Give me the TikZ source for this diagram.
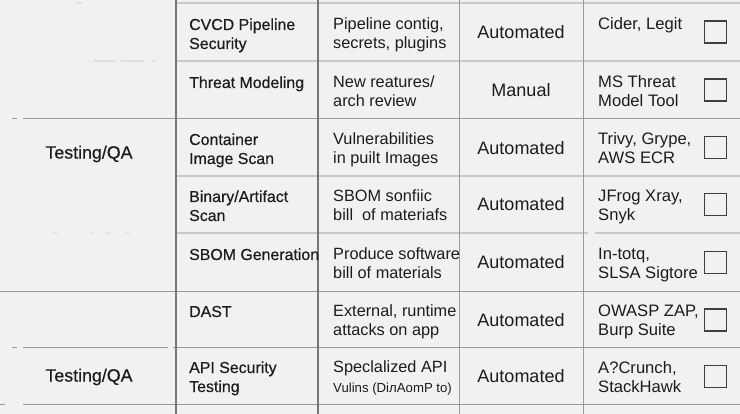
\documentclass[tikz,border=0pt]{standalone}
\usepackage{fontspec}
\setmainfont{Liberation Sans}
\newfontfamily\medfont{Liberation Sans}[FakeBold=0.45]
\definecolor{bg}{HTML}{F2F1EF}
\definecolor{ink}{HTML}{1C1C1C}
\definecolor{darkln}{HTML}{777777}
\definecolor{midln}{HTML}{9A9A9A}
\definecolor{lightln}{HTML}{C8C8C6}
\definecolor{faintln}{HTML}{DFDFDD}
\tikzset{
  task/.style={anchor=base west, align=left, inner sep=0pt, text=ink,
    font=\medfont\fontsize{15.9}{19}\selectfont},
  desc/.style={anchor=base west, align=left, inner sep=0pt, text=ink,
    font=\fontsize{16.3}{19}\selectfont},
  kind/.style={anchor=center, inner sep=0pt, text=ink,
    font=\fontsize{18}{20}\selectfont},
  tools/.style={anchor=base west, align=left, inner sep=0pt, text=ink,
    font=\fontsize{16.6}{19}\selectfont},
  phase/.style={anchor=center, inner sep=0pt, text=ink,
    font=\medfont\fontsize{17.8}{20}\selectfont},
  chk/.style={draw=ink!85, line width=1.1pt, minimum size=22pt, inner sep=0pt},
  secline/.style={draw=midln, line width=1pt},
  rowline/.style={draw=lightln, line width=1.2pt},
  faint/.style={draw=faintln, line width=1.1pt},
}
\begin{document}
\begin{tikzpicture}[x=1pt,y=-1pt]
\fill[bg] (0,0) rectangle (740,414);
\useasboundingbox (0,0) rectangle (740,414);

% row separators, columns 2-5
\draw[rowline] (176,3) -- (740,3);
\draw[rowline] (176,61) -- (740,61);
\draw[secline] (176,119) -- (740,119);
\draw[rowline] (176,176) -- (740,176);
\draw[rowline] (176,233) -- (588,233);
\draw[rowline] (595,233) -- (740,233);
\draw[secline] (176,292) -- (740,292);
\draw[secline] (176,348) -- (740,348);
\draw[secline] (176,405) -- (740,405);

% first column marks
\draw[faint] (76,3) -- (82,3);
\draw[faint] (88,61) -- (89,61) (93,61) -- (116,61) (121,61) -- (145,61) (152,61) -- (155,61);
\draw[secline] (12,119) -- (17,119) (23,119) -- (176,119);
\draw[faint, draw=faintln!60!bg] (52,233) -- (58,233) (90,233) -- (94,233) (105,233) -- (110,233) (125,233) -- (130,233);
\draw[secline] (0,292) -- (176,292);
\draw[secline] (12,348) -- (17,348) (23,348) -- (168,348) (173,348) -- (176,348);
\draw[secline] (0,405) -- (5,405) (23,405) -- (176,405);

% column separators
\draw[darkln, line width=1.1pt] (176,0) -- (176,414);
\draw[darkln, line width=1.1pt] (318,0) -- (318,414);
\draw[midln, line width=1pt] (459,0) -- (459,414);
\draw[midln, line width=1pt] (583,0) -- (583,414);

% phase labels
\node[phase] (ph1) at (89,154) {Testing/QA};
\node[phase] (ph2) at (89,377) {Testing/QA};

% row 1 (base anchor = baseline of the last line)
\node[task] (t1) at (189,49) {CVCD Pipeline\\Security};
\node[desc] (d1) at (333,49) {Pipeline contig,\\secrets, plugins};
\node[kind] (k1) at (521,32) {Automated};
\node[tools] (o1) at (598,30) {Cider, Legit};
\node[chk] (c1) at (715.5,32) {};
% row 2
\node[task] (t2) at (189,88) {Threat Modeling};
\node[desc] (d2) at (333,107) {New reatures/\\arch review};
\node[kind] (k2) at (521,90) {Manual};
\node[tools] (o2) at (598,107) {MS Threat\\Model Tool};
\node[chk] (c2) at (715.5,90) {};
% row 3
\node[task] (t3) at (189,164) {Container\\Image Scan};
\node[desc] (d3) at (333,164) {Vulnerabilities\\in puilt Images};
\node[kind] (k3) at (521,148) {Automated};
\node[tools] (o3) at (598,164) {Trivy, Grype,\\AWS ECR};
\node[chk] (c3) at (715.5,147.5) {};
% row 4
\node[task] (t4) at (189,221) {Binary/Artifact\\Scan};
\node[desc] (d4) at (333,221) {SBOM sonfiic\\bill\ \ of materiafs};
\node[kind] (k4) at (521,204.5) {Automated};
\node[tools] (o4) at (598,221) {JFrog Xray,\\Snyk};
\node[chk] (c4) at (715.5,204.5) {};
% row 5
\node[task] (t5) at (189,260) {SBOM Generation};
\node[desc] (d5) at (333,279) {Produce software\\bill of materials};
\node[kind] (k5) at (521,262.5) {Automated};
\node[tools] (o5) at (598,279) {In-totq,\\SLSA Sigtore};
\node[chk] (c5) at (715.5,262.5) {};
% row 6
\node[task] (t6) at (189,317) {DAST};
\node[desc] (d6) at (333,336) {External, runtime\\attacks on app};
\node[kind] (k6) at (521,320) {Automated};
\node[tools] (o6) at (598,336) {OWASP ZAP,\\Burp Suite};
\node[chk] (c6) at (715.5,320) {};
% row 7
\node[task] (t7) at (189,392) {API Security\\Testing};
\node[desc] (d7) at (333,373) {Speclalized API};
\node[desc, font=\fontsize{13.2}{15}\selectfont] (d7b) at (333,393) {Vulins (DiлAomP to)};
\node[kind] (k7) at (521,376.5) {Automated};
\node[tools] (o7) at (598,392) {A?Crunch,\\StackHawk};
\node[chk] (c7) at (715.5,376.5) {};
\end{tikzpicture}
\end{document}
